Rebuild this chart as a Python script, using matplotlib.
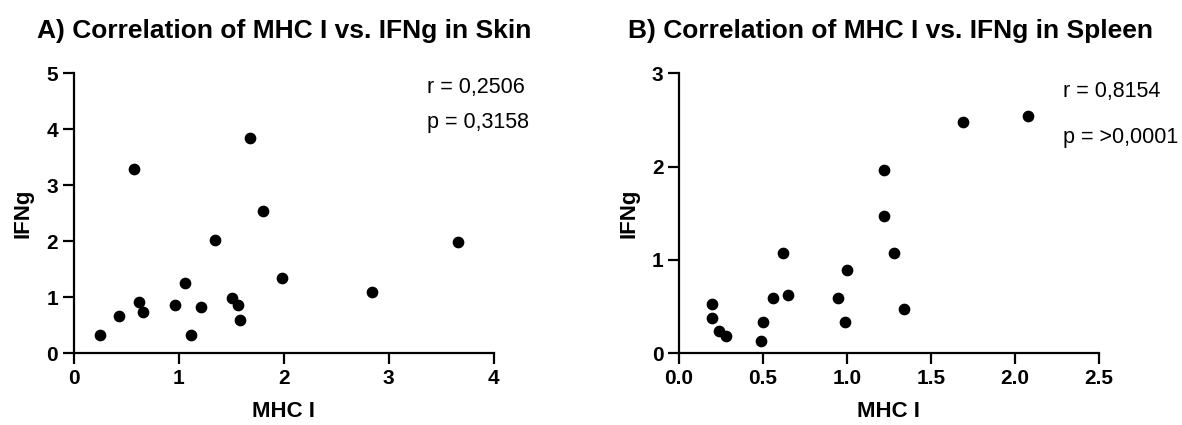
import numpy as np
import matplotlib
matplotlib.use('Agg')
import matplotlib.pyplot as plt

plt.rcParams['font.family'] = ['Liberation Sans', 'DejaVu Sans']

# A) skin
mhc_skin = [0.25, 0.43, 0.58, 0.62, 0.66, 0.97, 1.06, 1.12, 1.21, 1.35,
            1.51, 1.57, 1.58, 1.68, 1.80, 1.98, 2.84, 3.66]
ifng_skin = [0.32, 0.67, 3.29, 0.92, 0.74, 0.86, 1.25, 0.33, 0.82, 2.02,
             0.99, 0.86, 0.60, 3.85, 2.54, 1.34, 1.09, 1.98]

# B) spleen
mhc_spleen = [0.20, 0.20, 0.24, 0.28, 0.50, 0.49, 0.56, 0.62, 0.65, 0.95,
              0.99, 1.00, 1.22, 1.22, 1.28, 1.34, 1.69, 2.08]
ifng_spleen = [0.53, 0.38, 0.24, 0.19, 0.34, 0.13, 0.59, 1.08, 0.63, 0.59,
               0.34, 0.89, 1.96, 1.47, 1.07, 0.47, 2.48, 2.54]

titles = ['A) Correlation of MHC I vs. IFNg in Skin',
          'B) Correlation of MHC I vs. IFNg in Spleen']
stats = [('r = 0,2506', 'p = 0,3158'), ('r = 0,8154', 'p = >0,0001')]

fig = plt.figure(figsize=(11.82, 4.25), dpi=100)
axA = fig.add_axes([0.0622, 0.1687, 0.3556, 0.6588])
axB = fig.add_axes([0.5742, 0.1687, 0.3556, 0.6588])

def style(ax):
    for s in ['top', 'right']:
        ax.spines[s].set_visible(False)
    for s in ['left', 'bottom']:
        ax.spines[s].set_linewidth(1.6)
    ax.tick_params(width=1.6, length=8, labelsize=15, pad=3)
    for lab in ax.get_xticklabels() + ax.get_yticklabels():
        lab.set_fontweight('bold')
    ax.set_xlabel('MHC I', fontsize=16, fontweight='bold', labelpad=10)
    ax.set_ylabel('IFNg', fontsize=16, fontweight='bold', labelpad=9)

axA.scatter(mhc_skin, ifng_skin, s=55, color='black', clip_on=False, zorder=3)
axA.set_xlim(0, 4)
axA.set_ylim(0, 5)
axA.set_xticks([0, 1, 2, 3, 4])
axA.set_yticks([0, 1, 2, 3, 4, 5])
style(axA)

axB.scatter(mhc_spleen, ifng_spleen, s=55, color='black', clip_on=False, zorder=3)
axB.set_xlim(0, 2.5)
axB.set_ylim(0, 3)
axB.set_xticks([0, 0.5, 1.0, 1.5, 2.0, 2.5])
axB.set_xticklabels(['0.0', '0.5', '1.0', '1.5', '2.0', '2.5'])
axB.set_yticks([0, 1, 2, 3])
style(axB)

fig.text(0.031, 0.91, titles[0], fontsize=19, fontweight='bold', va='baseline')
fig.text(0.5316, 0.91, titles[1], fontsize=19, fontweight='bold', va='baseline')

axA.text(0.84, 0.93, stats[0][0], transform=axA.transAxes, fontsize=15.5, va='baseline')
axA.text(0.84, 0.8036, stats[0][1], transform=axA.transAxes, fontsize=15.5, va='baseline')
axB.text(0.9136, 0.914, stats[1][0], transform=axB.transAxes, fontsize=15.5, va='baseline')
axB.text(0.9136, 0.75, stats[1][1], transform=axB.transAxes, fontsize=15.5, va='baseline')

fig.savefig('out.png', dpi=100)
